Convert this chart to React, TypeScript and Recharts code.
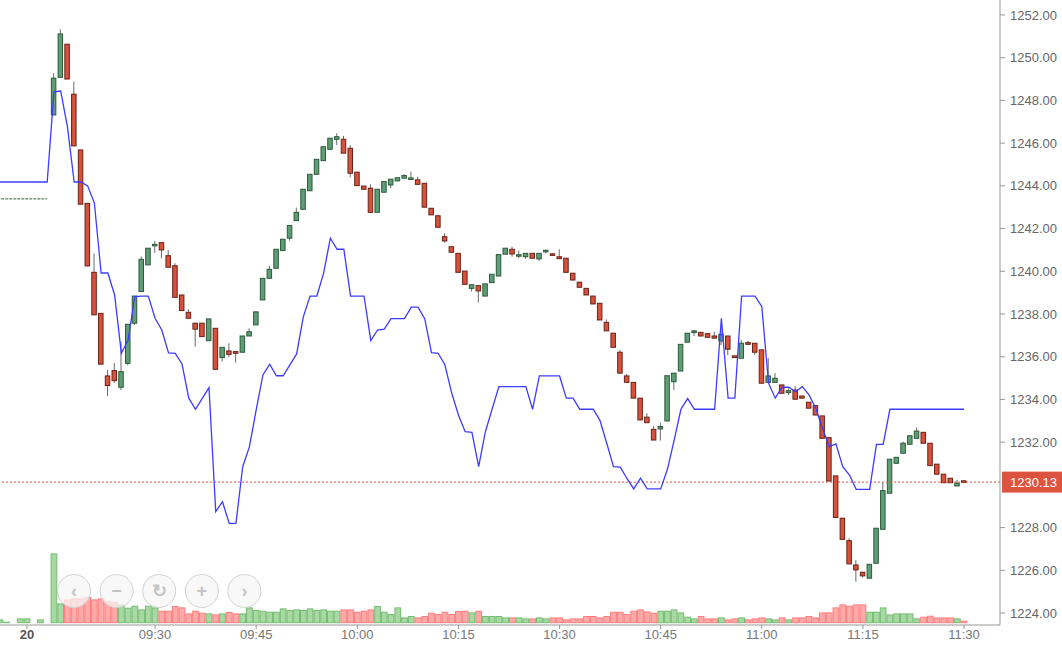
import React from "react";
import { ComposedChart, Bar, Line, XAxis, YAxis, ReferenceLine } from "recharts";

// ---- data ----
const FIRST_CANDLE_MINUTE = 555; // 09:15
const opens = [
  1247.32, 1249.08, 1250.63, 1248.29, 1245.68, 1243.18, 1239.95, 1238.03, 1235.10, 1235.35,
  1234.57, 1235.69, 1237.57, 1239.05, 1240.30, 1241.19, 1241.34, 1240.73, 1240.26, 1238.89,
  1238.08, 1237.57, 1237.57, 1236.75, 1237.33, 1235.96, 1236.27, 1236.24, 1236.21, 1236.97,
  1237.49, 1238.66, 1239.67, 1240.14, 1240.97, 1241.55, 1242.37, 1242.90, 1243.77, 1244.54,
  1245.18, 1245.71, 1246.18, 1246.18, 1245.76, 1244.64, 1243.99, 1243.89, 1242.76, 1243.70,
  1244.04, 1244.23, 1244.36, 1244.31, 1244.28, 1244.12, 1242.95, 1242.60, 1241.62, 1241.15,
  1240.84, 1240.01, 1239.20, 1239.33, 1238.84, 1239.47, 1239.78, 1240.80, 1241.03, 1240.72,
  1240.68, 1240.84, 1240.58, 1240.92, 1240.81, 1240.68, 1240.61, 1239.91, 1239.49, 1239.20,
  1238.84, 1238.50, 1237.61, 1237.10, 1236.21, 1235.10, 1234.80, 1234.06, 1233.17, 1232.60,
  1232.62, 1232.99, 1234.83, 1235.33, 1236.68, 1237.13, 1237.14, 1237.08, 1236.97, 1236.74,
  1236.97, 1236.04, 1235.93, 1236.66, 1236.63, 1236.32, 1234.80, 1234.80, 1234.68, 1234.32,
  1234.44, 1234.16, 1233.87, 1233.71, 1233.23, 1232.21, 1230.42, 1228.44, 1227.39, 1226.25,
  1225.91, 1225.63, 1226.33, 1227.92, 1229.61, 1231.01, 1231.48, 1231.90, 1232.18, 1232.46,
  1231.95, 1230.97, 1230.50, 1230.31, 1229.95, 1230.18,
];
const highs = [
  1249.27, 1251.33, 1250.63, 1248.88, 1245.68, 1243.18, 1240.84, 1238.03, 1235.38, 1235.71,
  1236.70, 1237.52, 1238.84, 1240.69, 1241.08, 1241.42, 1241.34, 1241.00, 1240.38, 1238.89,
  1238.22, 1237.57, 1237.57, 1237.77, 1237.33, 1236.44, 1236.63, 1236.24, 1236.97, 1237.33,
  1238.10, 1239.67, 1240.26, 1241.03, 1241.50, 1242.14, 1242.98, 1243.84, 1244.54, 1245.24,
  1245.83, 1246.23, 1246.46, 1246.34, 1245.91, 1244.64, 1243.99, 1244.07, 1243.84, 1244.20,
  1244.31, 1244.38, 1244.54, 1244.66, 1244.43, 1244.12, 1242.95, 1242.60, 1241.78, 1241.15,
  1240.84, 1240.01, 1239.37, 1239.33, 1239.41, 1239.86, 1240.78, 1241.08, 1241.15, 1240.97,
  1240.84, 1240.84, 1240.84, 1241.03, 1240.85, 1241.03, 1240.61, 1239.91, 1239.49, 1239.20,
  1238.84, 1238.50, 1237.75, 1237.10, 1236.32, 1235.19, 1234.80, 1234.06, 1233.35, 1232.76,
  1232.91, 1235.11, 1235.23, 1236.58, 1237.10, 1237.25, 1237.14, 1237.08, 1237.17, 1237.33,
  1236.97, 1236.04, 1236.78, 1236.75, 1236.63, 1236.32, 1235.93, 1235.23, 1234.68, 1234.52,
  1234.63, 1234.16, 1233.87, 1233.71, 1233.23, 1232.21, 1230.42, 1228.44, 1227.50, 1226.48,
  1225.91, 1226.28, 1227.97, 1230.12, 1231.20, 1231.29, 1232.02, 1232.30, 1232.68, 1232.46,
  1231.95, 1230.97, 1230.50, 1230.31, 1230.23, 1230.20,
];
const lows = [
  1247.30, 1249.08, 1249.00, 1245.87, 1243.14, 1240.25, 1237.96, 1235.65, 1234.16, 1234.77,
  1234.44, 1235.60, 1237.49, 1239.05, 1240.30, 1240.86, 1240.61, 1240.19, 1238.78, 1238.16,
  1237.80, 1236.47, 1236.94, 1236.75, 1235.41, 1235.77, 1235.97, 1235.72, 1236.21, 1236.97,
  1237.49, 1238.66, 1239.67, 1240.14, 1240.97, 1241.43, 1242.37, 1242.90, 1243.77, 1244.54,
  1245.18, 1245.71, 1245.91, 1245.53, 1244.40, 1244.01, 1243.84, 1242.76, 1242.76, 1243.70,
  1243.89, 1244.23, 1244.36, 1244.31, 1244.07, 1243.00, 1242.64, 1242.06, 1241.34, 1240.89,
  1239.95, 1239.39, 1239.05, 1238.53, 1238.84, 1239.47, 1239.78, 1240.80, 1240.68, 1240.61,
  1240.58, 1240.61, 1240.48, 1240.84, 1240.72, 1240.59, 1239.95, 1239.59, 1239.25, 1238.89,
  1238.47, 1237.72, 1237.21, 1236.44, 1235.23, 1234.80, 1234.06, 1233.04, 1232.91, 1232.10,
  1232.07, 1232.99, 1234.44, 1235.33, 1236.68, 1236.97, 1236.97, 1236.91, 1236.87, 1236.55,
  1236.08, 1235.96, 1235.93, 1236.58, 1236.08, 1234.76, 1234.80, 1234.80, 1234.29, 1234.21,
  1234.01, 1234.06, 1233.59, 1233.27, 1232.18, 1230.18, 1228.47, 1227.45, 1226.30, 1225.47,
  1225.66, 1225.63, 1226.33, 1227.92, 1229.61, 1231.01, 1231.48, 1231.90, 1232.18, 1231.95,
  1230.90, 1230.50, 1230.10, 1230.10, 1229.95, 1230.10,
];
const closes = [
  1249.04, 1251.11, 1249.00, 1245.87, 1243.14, 1240.25, 1237.96, 1235.65, 1234.65, 1234.88,
  1235.30, 1237.52, 1238.84, 1240.56, 1241.08, 1241.26, 1241.00, 1240.19, 1238.78, 1238.16,
  1237.80, 1237.29, 1236.94, 1237.77, 1235.41, 1236.44, 1236.11, 1236.16, 1236.97, 1237.17,
  1238.10, 1239.67, 1240.09, 1241.03, 1241.50, 1242.14, 1242.76, 1243.84, 1244.54, 1245.24,
  1245.83, 1246.23, 1246.30, 1245.53, 1244.59, 1244.01, 1243.84, 1242.76, 1243.84, 1244.20,
  1244.31, 1244.38, 1244.48, 1244.36, 1244.07, 1243.00, 1242.64, 1242.06, 1241.42, 1240.89,
  1239.95, 1239.39, 1239.37, 1239.08, 1239.41, 1239.86, 1240.78, 1241.08, 1240.81, 1240.76,
  1240.84, 1240.61, 1240.84, 1240.97, 1240.75, 1240.59, 1239.95, 1239.59, 1239.25, 1238.89,
  1238.47, 1237.72, 1237.21, 1236.44, 1235.23, 1234.80, 1234.06, 1233.04, 1232.91, 1232.10,
  1232.73, 1235.11, 1235.23, 1236.58, 1237.10, 1237.21, 1236.97, 1236.91, 1236.87, 1237.05,
  1236.35, 1235.96, 1236.63, 1236.58, 1236.21, 1234.76, 1235.10, 1234.99, 1234.29, 1234.41,
  1234.01, 1234.06, 1233.59, 1233.27, 1232.18, 1230.18, 1228.47, 1227.45, 1226.30, 1226.02,
  1225.74, 1226.28, 1227.97, 1229.73, 1231.20, 1231.29, 1231.95, 1232.30, 1232.52, 1231.95,
  1230.90, 1230.50, 1230.10, 1230.10, 1230.08, 1230.13,
];
const volumes = [
  69.3, 19.3, 23.3, 24.3, 24.3, 26.0, 23.3, 24.3, 22.0, 21.0,
  18.3, 15.0, 17.0, 13.3, 17.0, 15.3, 12.0, 12.0, 16.7, 15.3,
  9.3, 12.0, 10.0, 9.3, 8.3, 9.3, 10.7, 9.3, 9.3, 15.3,
  12.7, 12.0, 11.0, 11.0, 14.3, 12.7, 13.3, 12.7, 14.3, 12.7,
  13.3, 12.0, 12.0, 13.3, 13.3, 11.0, 12.0, 13.3, 16.7, 11.0,
  8.7, 15.3, 5.3, 6.7, 5.3, 6.7, 10.0, 8.7, 11.0, 8.7,
  11.7, 12.0, 10.3, 12.0, 6.7, 6.7, 6.7, 5.3, 5.3, 5.3,
  4.3, 4.3, 5.3, 4.3, 5.3, 5.3, 3.3, 4.3, 4.3, 6.7,
  6.7, 5.3, 6.7, 11.0, 11.0, 8.7, 12.0, 13.3, 11.3, 10.0,
  12.0, 12.0, 13.3, 10.3, 6.0, 4.3, 6.7, 4.3, 4.3, 5.3,
  3.3, 4.3, 5.3, 3.3, 4.3, 5.3, 4.3, 3.3, 5.3, 3.3,
  5.3, 5.3, 6.7, 5.3, 10.3, 10.3, 15.3, 18.3, 17.0, 18.3,
  18.3, 11.0, 11.0, 15.3, 8.3, 9.3, 9.3, 9.3, 4.3, 6.0,
  7.0, 5.3, 5.3, 5.3, 4.3, 2.0,
];
const indicator = [
  1248.40, 1248.44, 1246.77, 1244.18, 1244.18, 1244.00, 1243.19, 1239.92, 1239.92, 1238.89,
  1236.16, 1236.78, 1238.81, 1238.84, 1238.84, 1237.80, 1237.25, 1236.18, 1236.16, 1235.66,
  1234.06, 1233.54, 1234.05, 1234.55, 1228.75, 1229.21, 1228.20, 1228.20, 1230.85, 1231.79,
  1233.51, 1235.15, 1235.65, 1235.11, 1235.11, 1235.62, 1236.13, 1237.88, 1238.84, 1238.84,
  1239.91, 1241.55, 1241.03, 1241.03, 1238.84, 1238.84, 1238.84, 1236.75, 1237.25, 1237.29,
  1237.78, 1237.78, 1237.78, 1238.32, 1238.32, 1237.78, 1236.19, 1236.16, 1235.61, 1234.30,
  1233.27, 1232.49, 1232.46, 1230.85, 1232.49, 1233.55, 1234.60, 1234.60, 1234.60, 1234.60,
  1234.60, 1233.54, 1235.10, 1235.10, 1235.10, 1235.10, 1234.06, 1234.06, 1233.54, 1233.54,
  1233.54, 1233.01, 1231.95, 1230.85, 1230.83, 1230.30, 1229.81, 1230.31, 1229.81, 1229.81,
  1229.81, 1230.73, 1232.10, 1233.54, 1234.04, 1233.54, 1233.54, 1233.54, 1233.54, 1237.80,
  1234.06, 1234.06, 1238.84, 1238.84, 1238.84, 1238.34, 1234.76, 1234.06, 1234.57, 1234.57,
  1234.36, 1234.60, 1234.21, 1233.59, 1232.65, 1231.79, 1231.92, 1230.85, 1230.46, 1229.79,
  1229.79, 1229.79, 1231.90, 1231.90, 1233.54, 1233.54, 1233.54, 1233.54, 1233.54, 1233.54,
  1233.54, 1233.54, 1233.54, 1233.54, 1233.54, 1233.54,
];
const preOpenMinutes = [546, 547, 548, 549, 550, 551, 552, 553, 554];
const preOpenVolumes = [null, 3.3, 1.0, null, 4.3, 4.3, null, 3.3, null];
const preOpenPrice = 1243.39;
const preOpenIndicator = 1244.18;
const lastPrice = 1230.13;
const priceTicks = [1224, 1226, 1228, 1232, 1234, 1236, 1238, 1240, 1242, 1244, 1246, 1248, 1250, 1252];
const timeTicks = [551, 570, 585, 600, 615, 630, 645, 660, 675, 690];
const dayTick = 551;
const dayLabel = "20";
const navButtons = ["\u2039", "\u2212", "\u21bb", "+", "\u203a"];

// ---- rows ----
type Row = {
  t: number;
  o?: number;
  h?: number;
  l?: number;
  c?: number;
  vol?: number | null;
  up: boolean;
  ind?: number;
  pre?: number;
};
const rows: Row[] = [];
preOpenMinutes.forEach((m, i) =>
  rows.push({ t: m, vol: preOpenVolumes[i], up: true, pre: preOpenPrice, ind: preOpenIndicator })
);
opens.forEach((o, i) =>
  rows.push({
    t: FIRST_CANDLE_MINUTE + i,
    o,
    h: highs[i],
    l: lows[i],
    c: closes[i],
    vol: volumes[i],
    up: closes[i] >= o,
    ind: indicator[i],
  })
);

const FONT = "'Liberation Sans', Arial, sans-serif";

function fmtTime(m: number) {
  const h = Math.floor(m / 60);
  const mm = m % 60;
  return `${h < 10 ? "0" : ""}${h}:${mm < 10 ? "0" : ""}${mm}`;
}

function CandleShape(props: any) {
  const { x, y, width, height, payload } = props;
  if (!payload || payload.o == null || !isFinite(y)) return null;
  const { o, h, l, c } = payload;
  const up = c >= o;
  const span = h - l;
  const toY = (p: number) => (span > 0 ? y + ((h - p) / span) * height : y);
  const cx = x + width / 2;
  let top = toY(Math.max(o, c));
  let bot = toY(Math.min(o, c));
  if (bot - top < 1.5) {
    const mid = (top + bot) / 2;
    top = mid - 0.75;
    bot = mid + 0.75;
  }
  return (
    <g>
      <line x1={cx} x2={cx} y1={y} y2={y + height} stroke="#6a6a6a" strokeWidth={1} />
      <rect
        x={cx - 2.25}
        y={top}
        width={4.5}
        height={bot - top}
        fill={up ? "#5f9d74" : "#d6523c"}
        stroke={up ? "#2c5a3b" : "#6a2217"}
        strokeWidth={1}
      />
    </g>
  );
}

function VolumeShape(props: any) {
  const { x, y, width, height, payload } = props;
  if (!payload || payload.vol == null || !(height > 0)) return null;
  const up = payload.up;
  return (
    <rect
      x={x + 0.5}
      y={y + 0.5}
      width={width - 1}
      height={height - 0.5}
      fill={up ? "#a8d8a4" : "#ffa9a9"}
      stroke={up ? "#74bd70" : "#ff7e7e"}
      strokeWidth={1}
    />
  );
}

function TimeTick(props: any) {
  const { x, y, payload } = props;
  const isDay = payload.value === dayTick;
  return (
    <text
      x={x}
      y={y}
      dy="0.71em"
      textAnchor="middle"
      fontSize={13}
      fontFamily={FONT}
      fontWeight={isDay ? "bold" : "normal"}
      fill={isDay ? "#555" : "#777"}
    >
      {isDay ? dayLabel : fmtTime(payload.value)}
    </text>
  );
}

function PriceLabel(props: any) {
  const vb = props.viewBox || {};
  const x = (vb.x ?? 0) + (vb.width ?? 0);
  const y = vb.y ?? 0;
  return (
    <g>
      <rect x={x + 2} y={y - 10.5} width={60} height={21} fill="#dc543f" />
      <text x={x + 10} y={y} dy="0.36em" fill="#fff" fontSize={13} fontFamily={FONT}>
        {lastPrice.toFixed(2)}
      </text>
    </g>
  );
}

export default function App() {
  return (
    <div style={{ position: "absolute", left: 0, top: 0, width: 1062, height: 646, background: "#fff" }}>
      <ComposedChart width={1062} height={646} data={rows} margin={{ top: 0, right: 0, bottom: 0, left: 0 }}>
        <XAxis
          xAxisId="main"
          dataKey="t"
          type="number"
          domain={[547.0, 695.33]}
          allowDataOverflow
          ticks={timeTicks}
          interval={0}
          height={21}
          tickSize={4}
          tickMargin={1}
          axisLine={{ stroke: "#999" }}
          tickLine={{ stroke: "#999" }}
          tick={<TimeTick />}
        />
        <XAxis xAxisId="vol" dataKey="t" type="number" domain={[547.0, 695.33]} allowDataOverflow hide />
        <YAxis
          yAxisId="price"
          orientation="right"
          width={62}
          domain={[1223.44, 1252.7]}
          allowDataOverflow
          ticks={priceTicks}
          interval={0}
          tickFormatter={(v: number) => v.toFixed(2)}
          tickSize={5}
          tickMargin={5}
          axisLine={{ stroke: "#999" }}
          tickLine={{ stroke: "#999" }}
          tick={{ fontSize: 13, fill: "#666", fontFamily: FONT }}
        />
        <YAxis yAxisId="vol" domain={[-2.3, 622.7]} allowDataOverflow hide />
        <Bar
          xAxisId="vol"
          yAxisId="vol"
          dataKey="vol"
          barSize={6.74}
          shape={<VolumeShape />}
          isAnimationActive={false}
        />
        <ReferenceLine
          xAxisId="main"
          yAxisId="price"
          y={lastPrice}
          stroke="#e2503c"
          strokeDasharray="2 2"
          label={<PriceLabel />}
        />
        <Line
          xAxisId="main"
          yAxisId="price"
          dataKey="pre"
          stroke="#2f6a40"
          strokeWidth={1}
          strokeDasharray="3 1"
          dot={false}
          activeDot={false}
          legendType="none"
          isAnimationActive={false}
        />
        <Bar
          xAxisId="main"
          yAxisId="price"
          dataKey={(d: Row) => (d.o == null ? null : [d.l, d.h])}
          barSize={7}
          shape={<CandleShape />}
          isAnimationActive={false}
        />
        <Line
          xAxisId="main"
          yAxisId="price"
          dataKey="ind"
          type="linear"
          stroke="#3c3cff"
          strokeWidth={1.3}
          dot={false}
          activeDot={false}
          legendType="none"
          isAnimationActive={false}
        />
      </ComposedChart>
      <svg width={1062} height={646} style={{ position: "absolute", left: 0, top: 0, pointerEvents: "none" }}>
        {navButtons.map((g, i) => (
          <g key={i}>
            <circle cx={74 + i * 42.6} cy={591} r={16.5} fill="rgba(246,246,246,0.75)" stroke="#d2d2d2" strokeWidth={1} />
            <text
              x={74 + i * 42.6}
              y={591}
              dy="0.35em"
              textAnchor="middle"
              fontSize={18}
              fontWeight="bold"
              fontFamily={FONT}
              fill="#c4c4c4"
            >
              {g}
            </text>
          </g>
        ))}
      </svg>
    </div>
  );
}
